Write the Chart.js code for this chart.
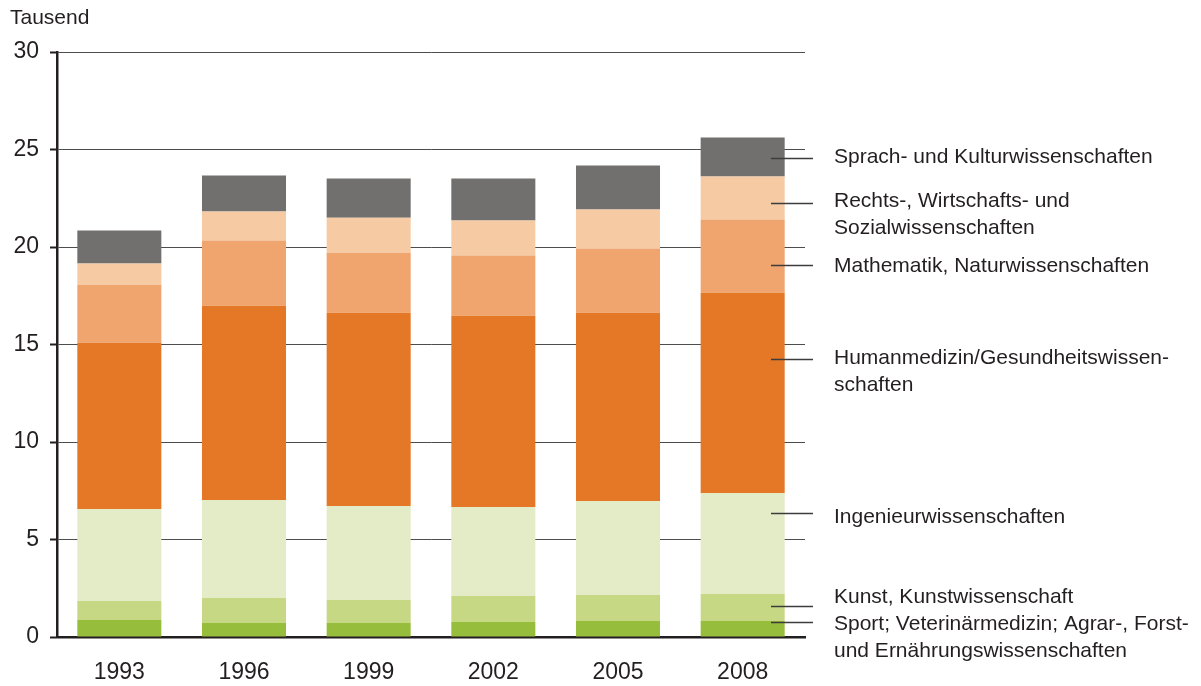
<!DOCTYPE html>
<html>
<head>
<meta charset="utf-8">
<script src="https://cdn.jsdelivr.net/npm/chart.js@4/dist/chart.umd.min.js"></script>
<style>
  html, body { margin: 0; padding: 0; background: #fff; }
  #wrap { width: 1201px; height: 686px; position: relative; }
</style>
</head>
<body>
<div id="wrap"><canvas id="chart"></canvas></div>
<script>
// Jahre
const years = ['1993', '1996', '1999', '2002', '2005', '2008'];

// Werte in Tausend, von unten nach oben gestapelt
const sportAgrar = [0.87, 0.72, 0.72, 0.77, 0.82, 0.82];
const kunst = [0.98, 1.28, 1.18, 1.33, 1.34, 1.39];
const ingenieur = [4.72, 5.03, 4.82, 4.57, 4.82, 5.18];
const humanmedizin = [8.52, 9.96, 9.91, 9.81, 9.65, 10.27];
const mathematik = [2.98, 3.34, 3.08, 3.08, 3.29, 3.75];
const rechtsWirtschaft = [1.08, 1.49, 1.79, 1.80, 2.00, 2.20];
const sprachKultur = [1.69, 1.85, 2.01, 2.15, 2.26, 2.01];

const yTicks = [0, 5, 10, 15, 20, 25, 30];

// Beschriftungen rechts (Text, Höhe der Hinweislinie, Höhe des Textes)
const seriesLabels = [
  ['Sprach- und Kulturwissenschaften'],
  ['Rechts-, Wirtschafts- und', 'Sozialwissenschaften'],
  ['Mathematik, Naturwissenschaften'],
  ['Humanmedizin/Gesundheitswissen-', 'schaften'],
  ['Ingenieurwissenschaften'],
  ['Kunst, Kunstwissenschaft'],
  ['Sport; Veterinärmedizin; Agrar-, Forst-', 'und Ernährungswissenschaften']
];
const leaderAt = [24.54, 22.28, 19.1, 14.27, 6.37, 1.6, 0.77];
const labelAt = [24.59, 22.33, 18.99, 14.32, 6.16, 2.05, 0.67];

const FONT = "'Liberation Sans', Arial, sans-serif";
const TEXT = '#231f20';

// Beschriftung und Hinweislinien rechts neben dem letzten Balken
const sideLabels = {
  id: 'sideLabels',
  afterDatasetsDraw(chart) {
    const ctx = chart.ctx;
    const y = chart.scales.y;
    ctx.save();
    ctx.strokeStyle = '#3c3c3c';
    ctx.lineWidth = 1.3;
    ctx.fillStyle = TEXT;
    ctx.font = '21px ' + FONT;
    ctx.textBaseline = 'middle';
    ctx.textAlign = 'left';
    seriesLabels.forEach((lines, i) => {
      const ly = Math.round(y.getPixelForValue(leaderAt[i])) + 0.5;
      ctx.beginPath();
      ctx.moveTo(771, ly);
      ctx.lineTo(813, ly);
      ctx.stroke();
      const ty = y.getPixelForValue(labelAt[i]);
      lines.forEach((t, k) => ctx.fillText(t, 834, ty + k * 27));
    });
    // Einheit oben links
    ctx.textBaseline = 'top';
    ctx.fillText('Tausend', 10, 8);
    ctx.restore();
  }
};

const ctx = document.getElementById('chart').getContext('2d');
new Chart(ctx, {
  type: 'bar',
  data: {
    labels: years,
    datasets: [
      { label: 'Sport; Veterinärmedizin; Agrar-, Forst- und Ernährungswissenschaften', data: sportAgrar, backgroundColor: '#97bd3c' },
      { label: 'Kunst, Kunstwissenschaft', data: kunst, backgroundColor: '#c6d884' },
      { label: 'Ingenieurwissenschaften', data: ingenieur, backgroundColor: '#e3ecc6' },
      { label: 'Humanmedizin/Gesundheitswissenschaften', data: humanmedizin, backgroundColor: '#e47826' },
      { label: 'Mathematik, Naturwissenschaften', data: mathematik, backgroundColor: '#f0a46e' },
      { label: 'Rechts-, Wirtschafts- und Sozialwissenschaften', data: rechtsWirtschaft, backgroundColor: '#f6caa3' },
      { label: 'Sprach- und Kulturwissenschaften', data: sprachKultur, backgroundColor: '#72706e' }
    ]
  },
  options: {
    responsive: true,
    maintainAspectRatio: false,
    animation: false,
    layout: { padding: { top: 52, right: 396, left: 0, bottom: 0 } },
    datasets: { bar: { barPercentage: 0.674, categoryPercentage: 1, borderWidth: 0 } },
    plugins: { legend: { display: false }, tooltip: { enabled: false } },
    scales: {
      x: {
        stacked: true,
        grid: { display: false, drawTicks: false },
        border: { display: true, color: '#231f20', width: 2.5 },
        ticks: { color: TEXT, font: { family: FONT, size: 23 }, padding: 22 },
        afterFit: s => { s.height = 49; }
      },
      y: {
        stacked: true,
        min: 0,
        max: 30,
        afterBuildTicks: s => { s.ticks = yTicks.map(v => ({ value: v })); },
        grid: { color: '#4d4d4d', lineWidth: 1, tickLength: 7, tickColor: '#231f20', tickWidth: 2 },
        border: { display: true, color: '#231f20', width: 2.5 },
        ticks: { color: TEXT, font: { family: FONT, size: 23 }, padding: 11 },
        afterFit: s => { s.width = 57; }
      }
    }
  },
  plugins: [sideLabels]
});
</script>
</body>
</html>
